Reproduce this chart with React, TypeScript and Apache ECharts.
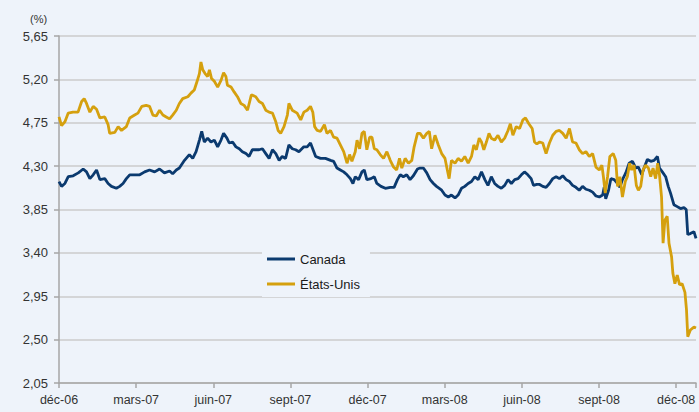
import React, { useEffect, useRef } from "react";
import * as echarts from "echarts";

// x positions are months after the start of déc-06 (0 = déc-06, 3 = mars-07, ...)
const tickLabels = ["déc-06", "mars-07", "juin-07", "sept-07", "déc-07", "mars-08", "juin-08", "sept-08", "déc-08"];
const seriesNames = ["Canada", "États-Unis"];

const caX = [0, 0.1, 0.23, 0.36, 0.55, 0.75, 0.94, 1.07, 1.2, 1.33, 1.46, 1.59, 1.78, 1.91, 2.04, 2.23, 2.36, 2.49, 2.62, 2.75, 2.94, 3.14, 3.33, 3.52, 3.72, 3.91, 4.1, 4.3, 4.42, 4.56, 4.68, 4.88, 5.07, 5.2, 5.33, 5.46, 5.55, 5.65, 5.78, 5.91, 6.04, 6.17, 6.3, 6.4, 6.53, 6.62, 6.75, 6.88, 7.01, 7.13, 7.27, 7.39, 7.52, 7.65, 7.78, 7.91, 8.04, 8.17, 8.3, 8.43, 8.56, 8.68, 8.81, 8.94, 9.07, 9.2, 9.33, 9.52, 9.65, 9.78, 9.88, 9.98, 10.17, 10.36, 10.56, 10.68, 10.81, 10.94, 11.07, 11.2, 11.33, 11.43, 11.52, 11.65, 11.78, 11.87, 11.97, 12.13, 12.26, 12.36, 12.52, 12.69, 12.88, 13.03, 13.16, 13.27, 13.39, 13.52, 13.65, 13.78, 13.94, 14.04, 14.17, 14.3, 14.43, 14.56, 14.68, 14.88, 15.01, 15.14, 15.26, 15.4, 15.52, 15.65, 15.78, 15.91, 16.04, 16.17, 16.3, 16.43, 16.56, 16.68, 16.81, 16.94, 17.07, 17.2, 17.33, 17.46, 17.59, 17.72, 17.85, 17.98, 18.1, 18.23, 18.36, 18.45, 18.58, 18.69, 18.81, 18.94, 19.07, 19.2, 19.33, 19.46, 19.59, 19.72, 19.85, 19.97, 20.1, 20.23, 20.36, 20.49, 20.62, 20.75, 20.88, 21.01, 21.14, 21.2, 21.26, 21.37, 21.46, 21.59, 21.72, 21.81, 21.91, 22.04, 22.17, 22.3, 22.43, 22.53, 22.66, 22.75, 22.88, 23.01, 23.14, 23.27, 23.35, 23.46, 23.59, 23.69, 23.78, 23.91, 24.04, 24.17, 24.3, 24.39, 24.45, 24.55, 24.69, 24.77];
const caY = [4.14, 4.09, 4.12, 4.19, 4.2, 4.23, 4.27, 4.24, 4.17, 4.21, 4.26, 4.16, 4.17, 4.12, 4.09, 4.07, 4.09, 4.12, 4.17, 4.21, 4.21, 4.21, 4.24, 4.26, 4.24, 4.27, 4.23, 4.25, 4.22, 4.26, 4.28, 4.36, 4.42, 4.38, 4.45, 4.57, 4.66, 4.55, 4.59, 4.55, 4.57, 4.5, 4.57, 4.64, 4.59, 4.54, 4.55, 4.5, 4.48, 4.45, 4.43, 4.4, 4.47, 4.47, 4.47, 4.48, 4.43, 4.38, 4.47, 4.43, 4.36, 4.4, 4.38, 4.52, 4.48, 4.47, 4.45, 4.5, 4.5, 4.54, 4.47, 4.4, 4.38, 4.38, 4.36, 4.35, 4.28, 4.26, 4.24, 4.21, 4.17, 4.12, 4.19, 4.16, 4.24, 4.26, 4.16, 4.17, 4.19, 4.12, 4.09, 4.07, 4.08, 4.08, 4.16, 4.21, 4.19, 4.21, 4.16, 4.2, 4.27, 4.28, 4.28, 4.23, 4.16, 4.12, 4.09, 4.05, 4.0, 3.98, 4.0, 3.97, 4.0, 4.07, 4.09, 4.12, 4.14, 4.19, 4.16, 4.24, 4.16, 4.1, 4.19, 4.12, 4.09, 4.07, 4.1, 4.16, 4.12, 4.16, 4.17, 4.21, 4.24, 4.21, 4.17, 4.1, 4.11, 4.11, 4.09, 4.08, 4.12, 4.17, 4.19, 4.17, 4.2, 4.16, 4.14, 4.1, 4.08, 4.05, 4.09, 4.06, 4.05, 4.03, 3.99, 3.98, 4.0, 4.08, 3.96, 4.05, 4.17, 4.16, 4.12, 4.08, 4.16, 4.23, 4.33, 4.35, 4.28, 4.29, 4.21, 4.28, 4.37, 4.35, 4.36, 4.4, 4.28, 4.24, 4.19, 4.09, 4.02, 3.9, 3.88, 3.86, 3.87, 3.85, 3.59, 3.6, 3.62, 3.55];

const usX = [0, 0.1, 0.23, 0.36, 0.54, 0.74, 0.88, 0.98, 1.07, 1.2, 1.33, 1.46, 1.59, 1.78, 1.91, 1.97, 2.17, 2.3, 2.43, 2.62, 2.75, 2.94, 3.07, 3.22, 3.39, 3.52, 3.65, 3.78, 3.91, 4.04, 4.17, 4.3, 4.42, 4.56, 4.68, 4.81, 5.01, 5.14, 5.26, 5.37, 5.46, 5.52, 5.59, 5.68, 5.78, 5.85, 5.93, 6.04, 6.17, 6.3, 6.4, 6.49, 6.55, 6.69, 6.81, 6.94, 7.07, 7.2, 7.33, 7.48, 7.65, 7.78, 7.91, 8.04, 8.17, 8.3, 8.43, 8.52, 8.62, 8.75, 8.88, 8.94, 9.07, 9.26, 9.4, 9.52, 9.65, 9.78, 9.87, 9.94, 10.04, 10.17, 10.32, 10.42, 10.56, 10.68, 10.81, 10.94, 11.07, 11.2, 11.3, 11.39, 11.52, 11.59, 11.69, 11.78, 11.87, 11.97, 12.08, 12.17, 12.26, 12.36, 12.49, 12.62, 12.75, 12.88, 13.01, 13.13, 13.24, 13.33, 13.46, 13.59, 13.72, 13.81, 13.94, 14.04, 14.17, 14.3, 14.4, 14.49, 14.62, 14.75, 14.88, 15.01, 15.1, 15.17, 15.26, 15.4, 15.52, 15.65, 15.78, 15.91, 16.04, 16.13, 16.23, 16.34, 16.43, 16.52, 16.62, 16.72, 16.81, 16.94, 17.07, 17.2, 17.33, 17.46, 17.55, 17.65, 17.78, 17.91, 18.04, 18.14, 18.27, 18.4, 18.49, 18.58, 18.69, 18.81, 18.94, 19.07, 19.2, 19.33, 19.46, 19.59, 19.72, 19.85, 19.97, 20.1, 20.23, 20.36, 20.49, 20.62, 20.75, 20.88, 21.01, 21.11, 21.17, 21.24, 21.33, 21.42, 21.55, 21.65, 21.72, 21.81, 21.91, 22.02, 22.1, 22.19, 22.27, 22.36, 22.45, 22.53, 22.62, 22.71, 22.81, 22.92, 23.01, 23.1, 23.2, 23.28, 23.35, 23.43, 23.49, 23.56, 23.65, 23.72, 23.82, 23.87, 23.95, 24.04, 24.13, 24.23, 24.34, 24.4, 24.45, 24.55, 24.69, 24.77];
const usY = [4.81, 4.72, 4.76, 4.85, 4.86, 4.86, 4.97, 5.0, 4.95, 4.86, 4.92, 4.89, 4.8, 4.81, 4.73, 4.64, 4.65, 4.71, 4.67, 4.71, 4.8, 4.83, 4.85, 4.92, 4.93, 4.92, 4.83, 4.82, 4.88, 4.83, 4.81, 4.79, 4.83, 4.88, 4.95, 5.0, 5.02, 5.06, 5.09, 5.18, 5.26, 5.38, 5.3, 5.26, 5.23, 5.3, 5.21, 5.18, 5.12, 5.19, 5.27, 5.23, 5.14, 5.12, 5.07, 5.02, 4.95, 4.93, 4.88, 5.04, 5.02, 4.97, 4.95, 4.88, 4.86, 4.85, 4.76, 4.67, 4.64, 4.71, 4.83, 4.95, 4.88, 4.85, 4.78, 4.86, 4.88, 4.92, 4.86, 4.71, 4.67, 4.66, 4.73, 4.64, 4.67, 4.6, 4.59, 4.52, 4.45, 4.33, 4.42, 4.35, 4.45, 4.57, 4.48, 4.64, 4.66, 4.47, 4.6, 4.6, 4.48, 4.47, 4.42, 4.38, 4.45, 4.36, 4.29, 4.26, 4.38, 4.28, 4.38, 4.33, 4.36, 4.5, 4.64, 4.64, 4.59, 4.64, 4.66, 4.48, 4.62, 4.52, 4.43, 4.38, 4.26, 4.17, 4.36, 4.33, 4.38, 4.35, 4.4, 4.33, 4.4, 4.52, 4.47, 4.59, 4.55, 4.47, 4.55, 4.64, 4.59, 4.57, 4.62, 4.55, 4.59, 4.67, 4.74, 4.62, 4.71, 4.69, 4.78, 4.8, 4.74, 4.69, 4.55, 4.53, 4.55, 4.54, 4.43, 4.54, 4.62, 4.66, 4.67, 4.64, 4.59, 4.69, 4.55, 4.54, 4.47, 4.43, 4.45, 4.4, 4.43, 4.29, 4.26, 4.31, 4.19, 4.02, 4.19, 4.4, 4.43, 4.36, 4.09, 4.19, 3.98, 4.14, 4.19, 4.33, 4.26, 4.31, 4.1, 4.05, 4.09, 4.26, 4.31, 4.28, 4.19, 4.28, 4.17, 4.33, 4.21, 3.98, 3.5, 3.74, 3.78, 3.5, 3.36, 3.19, 3.08, 3.17, 3.07, 3.08, 2.99, 2.81, 2.53, 2.6, 2.63, 2.62];

const yMin = 2.05;
const yMax = 5.65;
const yStep = 0.45;
const xMax = 24.77;

const BG = "#eef3fa";
const FONT = "Liberation Sans, Arial, sans-serif";

export default function App() {
  const ref = useRef<HTMLDivElement>(null);
  useEffect(() => {
    if (!ref.current) return;
    const chart = echarts.init(ref.current, null, { renderer: "svg" });
    const zip = (xs: number[], ys: number[]) => xs.map((x, i) => [x, ys[i]]);
    chart.setOption({
      animation: false,
      backgroundColor: BG,
      textStyle: { fontFamily: FONT },
      grid: { left: 59, right: 0, top: 36, bottom: 29, containLabel: false },
      graphic: [
        {
          type: "text",
          left: 30,
          top: 13,
          style: { text: "(%)", fontSize: 11, fontFamily: FONT, fill: "#333" },
        },
      ],
      legend: {
        data: seriesNames,
        orient: "vertical",
        left: 262,
        top: 246,
        icon: "rect",
        itemWidth: 28,
        itemHeight: 3,
        itemGap: 9,
        padding: [5, 10, 5, 5],
        backgroundColor: BG,
        textStyle: { fontSize: 13, fontFamily: FONT, color: "#1a1a1a", lineHeight: 16 },
      },
      xAxis: {
        type: "value",
        min: 0,
        max: xMax,
        interval: 3,
        axisLine: { show: true, lineStyle: { color: "#a6a6a6", width: 1.5 } },
        axisTick: { show: true, length: 5, lineStyle: { color: "#a6a6a6", width: 1.5 } },
        splitLine: { show: false },
        axisLabel: {
          margin: 10,
          fontSize: 12.5,
          fontFamily: FONT,
          color: "#333",
          formatter: (v: number) => {
            const i = Math.round(v / 3);
            return Math.abs(v - i * 3) < 1e-6 && tickLabels[i] ? tickLabels[i] : "";
          },
        },
      },
      yAxis: {
        type: "value",
        min: yMin,
        max: yMax,
        interval: yStep,
        axisLine: { show: true, lineStyle: { color: "#a6a6a6", width: 1.5 } },
        axisTick: { show: true, length: 5, lineStyle: { color: "#a6a6a6", width: 1.5 } },
        splitLine: { show: true, lineStyle: { color: "#cbcbcb", width: 1.5 } },
        axisLabel: {
          margin: 11,
          fontSize: 13,
          fontFamily: FONT,
          color: "#333",
          formatter: (v: number) => v.toFixed(2).replace(".", ","),
        },
      },
      series: [
        {
          name: seriesNames[0],
          type: "line",
          data: zip(caX, caY),
          showSymbol: false,
          symbol: "none",
          color: "#0b3a6f",
          lineStyle: { color: "#0b3a6f", width: 2.8 },
        },
        {
          name: seriesNames[1],
          type: "line",
          data: zip(usX, usY),
          showSymbol: false,
          symbol: "none",
          color: "#d5a00e",
          lineStyle: { color: "#d5a00e", width: 2.8 },
        },
      ],
    });
    return () => chart.dispose();
  }, []);
  return (
    <div
      ref={ref}
      style={{ position: "absolute", left: 0, top: 0, width: 699, height: 412 }}
    />
  );
}
